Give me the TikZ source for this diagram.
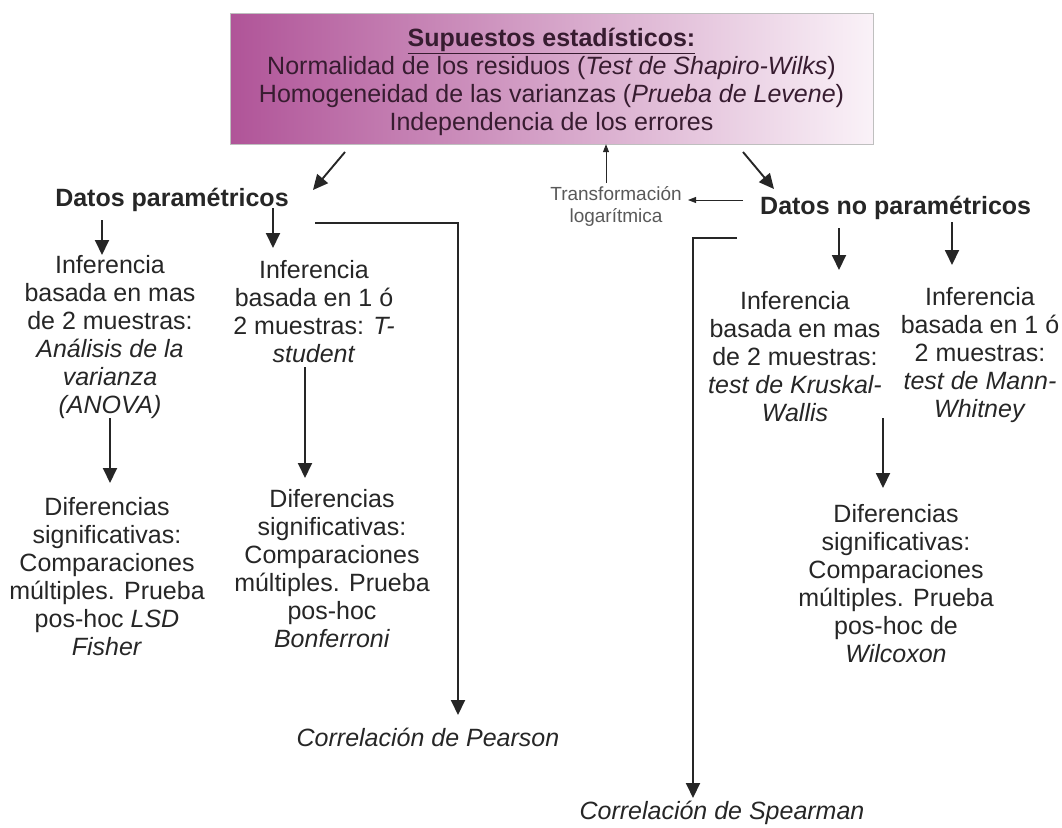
\documentclass[tikz,border=0pt]{standalone}
\usepackage{fontspec}
\setmainfont{Liberation Sans}
\usepackage{tikz}
\usetikzlibrary{arrows.meta,positioning,calc}
\definecolor{supleft}{RGB}{176,84,152}
\definecolor{supright}{RGB}{250,242,248}
\definecolor{suptext}{RGB}{55,28,48}
\definecolor{ink}{RGB}{38,38,38}

\begin{document}
\begin{tikzpicture}[
    x=1pt, y=-1pt,
    txt/.style={align=center, text=ink, font=\fontsize{25}{28}\selectfont, inner sep=2pt},
    head/.style={txt, font=\fontsize{25}{28}\selectfont\bfseries},
    small/.style={align=center, text=black!65, font=\fontsize{19}{22}\selectfont, inner sep=2pt},
    arrow/.style={-{Triangle[length=15pt,width=14pt]}, line width=1.9pt, draw=ink},
    thin arrow/.style={-{Triangle[length=8pt,width=6pt]}, line width=0.9pt, draw=ink}
]
    \useasboundingbox (0,0) rectangle (1062,827);

    % Supuestos
    \node[draw=black!25, left color=supleft, right color=supright, text=suptext,
          minimum width=643pt, minimum height=131pt, align=center,
          font=\fontsize{25}{28}\selectfont] (sup) at (551.5,78.5)
        {\rule{0pt}{26pt}\underline{\textbf{Supuestos estadísticos:}}\\
         Normalidad de los residuos (\textit{Test de Shapiro-Wilks})\\
         Homogeneidad de las varianzas (\textit{Prueba de Levene})\\
         Independencia de los errores};

    % Tipos de datos
    \node[head] (par) at (172,200) {Datos paramétricos};
    \node[head, anchor=west] (nopar) at (758,208) {Datos no paramétricos};
    \node[small] (trans) at (616,206) {Transformación\\logarítmica};

    % Datos parametricos
    \node[txt] (inf1) at (110,337) {Inferencia\\basada en mas\\de 2 muestras:\\\textit{Análisis de la}\\\textit{varianza}\\\textit{(ANOVA)}};
    \node[txt] (inf2) at (314,312) {Inferencia\\basada en 1 ó\\2 muestras: \textit{T-}\\\textit{student}};
    \node[txt] (dif1) at (107,577) {Diferencias\\significativas:\\Comparaciones\\múltiples. Prueba\\pos-hoc \textit{LSD}\\\textit{Fisher}};
    \node[txt] (dif2) at (332,569) {Diferencias\\significativas:\\Comparaciones\\múltiples. Prueba\\pos-hoc\\\textit{Bonferroni}};
    \node[txt] (pearson) at (428,737) {\textit{Correlación de Pearson}};

    % Datos no parametricos
    \node[txt] (inf3) at (795,357) {Inferencia\\basada en mas\\de 2 muestras:\\\textit{test de Kruskal-}\\\textit{Wallis}};
    \node[txt] (inf4) at (980,355) {Inferencia\\basada en 1 ó\\2 muestras:\\\textit{test de Mann-}\\\textit{Whitney}};
    \node[txt] (dif3) at (896,584) {Diferencias\\significativas:\\Comparaciones\\múltiples. Prueba\\pos-hoc de\\\textit{Wilcoxon}};
    \node[txt] (spearman) at (722,813) {\textit{Correlación de Spearman}};

    % Puntos de las flechas
    \coordinate (supL) at (345,152);
    \coordinate (supR) at (743,152);
    \coordinate (parIn) at (313,190);
    \coordinate (noparIn) at (774,189);
    \coordinate (transUp) at (606,183);
    \coordinate (noparOut) at (743,200);
    \coordinate (transIn) at (688,200);
    \coordinate (par1) at (102,220);
    \coordinate (par2) at (273,208);
    \coordinate (inf1In) at (102,255);
    \coordinate (inf2In) at (273,248);
    \coordinate (inf1Out) at (110,418);
    \coordinate (dif1In) at (110,483);
    \coordinate (inf2Out) at (305,367);
    \coordinate (dif2In) at (305,478);
    \coordinate (pearOut) at (315,223);
    \coordinate (pearIn) at (458,715);
    \coordinate (nopar1) at (839,228);
    \coordinate (nopar2) at (952,222);
    \coordinate (inf3In) at (839,270);
    \coordinate (inf4In) at (952,265);
    \coordinate (inf3Out) at (883,418);
    \coordinate (dif3In) at (883,488);
    \coordinate (spearOut) at (737,238);
    \coordinate (spearIn) at (693,798);

    % Conexiones
    \draw[arrow] (supL) -- (parIn);
    \draw[arrow] (supR) -- (noparIn);
    \draw[thin arrow] (transUp) -- (transUp |- sup.south);
    \draw[thin arrow] (noparOut) -- (transIn);
    \draw[arrow] (par1) -- (inf1In);
    \draw[arrow] (par2) -- (inf2In);
    \draw[arrow] (inf1Out) -- (dif1In);
    \draw[arrow] (inf2Out) -- (dif2In);
    \draw[arrow] (pearOut) -| (pearIn);
    \draw[arrow] (nopar1) -- (inf3In);
    \draw[arrow] (nopar2) -- (inf4In);
    \draw[arrow] (inf3Out) -- (dif3In);
    \draw[arrow] (spearOut) -| (spearIn);
\end{tikzpicture}
\end{document}
